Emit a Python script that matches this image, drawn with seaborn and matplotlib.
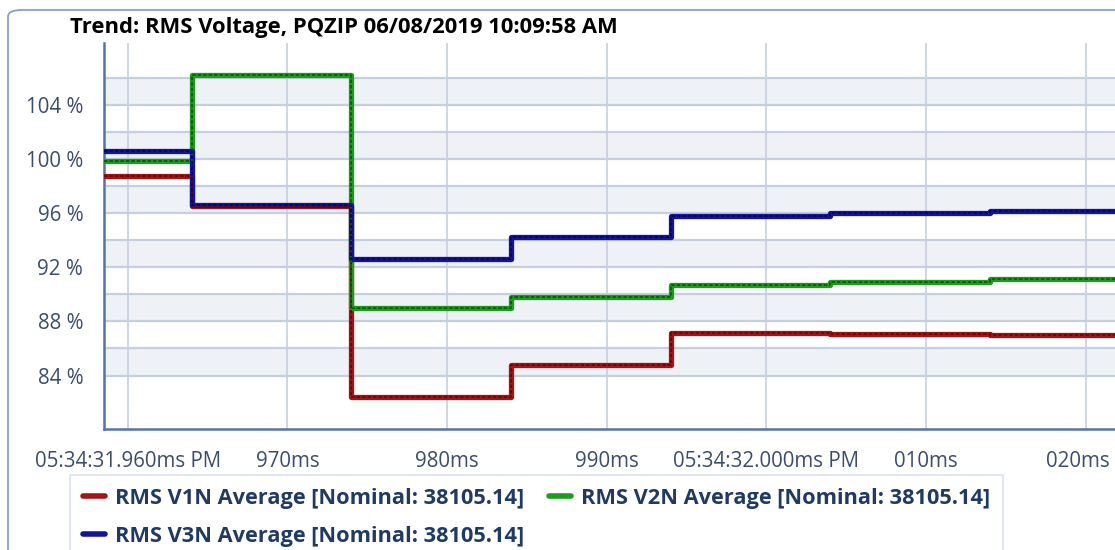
"""
Trend chart: RMS voltage of three phases (percent of nominal) over ~60 ms
"""
import numpy as np
import pandas as pd
import matplotlib
matplotlib.use("Agg")
import matplotlib.pyplot as plt
import matplotlib.transforms as mtransforms
import seaborn as sns
from matplotlib.lines import Line2D
from matplotlib.patches import FancyBboxPatch

# time in ms after 05:34:31.960 PM, one point per step
time_ms = [-1.5, 4.0, 14.0, 24.0, 34.0, 44.0, 54.0, 62.0]
v1n_pct = [98.75, 96.5, 82.4, 84.8, 87.17, 87.05, 87.0, 87.0]
v2n_pct = [99.85, 106.2, 88.95, 89.8, 90.7, 90.93, 91.13, 91.13]
v3n_pct = [100.6, 96.6, 92.6, 94.2, 95.8, 96.0, 96.15, 96.15]

series_names = ["RMS V1N Average [Nominal: 38105.14]",
                "RMS V2N Average [Nominal: 38105.14]",
                "RMS V3N Average [Nominal: 38105.14]"]

x_ticks = [0, 10, 20, 30, 40, 50, 60]
x_labels = ["05:34:31.960ms PM", "970ms", "980ms", "990ms",
            "05:34:32.000ms PM", "010ms", "020ms"]
y_ticks = list(range(84, 107, 2))
y_labels = [f"{v} %" if v % 4 == 0 else "" for v in y_ticks]

title = "Trend: RMS Voltage, PQZIP 06/08/2019 10:09:58 AM"

colors = ["#a31515", "#1e9a1e", "#14149a"]
dark_colors = ["#6a0808", "#0a600a", "#08085f"]
axis_col = "#5575a8"
grid_col = "#c6cfdf"
band_col = "#eef1f6"
text_col = "#3b4d6e"

df = pd.DataFrame({
    "t": time_ms * 3,
    "v": v1n_pct + v2n_pct + v3n_pct,
    "series": [s for s in series_names for _ in time_ms],
})

sns.set_style("white")
plt.rcParams["font.family"] = ["Open Sans", "DejaVu Sans"]

W, H = 1115, 550
fig = plt.figure(figsize=(W / 100, H / 100), dpi=100)
ax = fig.add_axes([104 / W, (H - 429) / H, (W - 104) / W, (429 - 43) / H])

# outer rounded frame
frame = FancyBboxPatch((8 / W, -0.1), 1.2, 1.1 - 10 / H,
                       boxstyle="round,pad=0,rounding_size=0.012",
                       transform=fig.transFigure, fill=False,
                       edgecolor="#7f99c6", linewidth=1.2, zorder=0)
fig.add_artist(frame)

# alternating bands and grid
for lo in range(84, 106, 4):
    ax.axhspan(lo, lo + 2, color=band_col, lw=0, zorder=0)
for v in y_ticks:
    ax.axhline(v, color=grid_col, lw=1.6, zorder=1)
for x in x_ticks:
    ax.axvline(x, color=grid_col, lw=1.2, zorder=1)

sns.lineplot(data=df, x="t", y="v", hue="series", palette=colors,
             drawstyle="steps-post", lw=3.8, legend=False, ax=ax, zorder=3)
sns.lineplot(data=df, x="t", y="v", hue="series", palette=dark_colors,
             drawstyle="steps-post", lw=1.4, linestyle=(0, (1.8, 1.0)),
             legend=False, ax=ax, zorder=4)

ax.set_xlim(-1.48, 61.83)
ax.set_ylim(80.05, 108.55)
ax.set_xticks(x_ticks)
ax.set_xticklabels(x_labels)
ax.set_yticks(y_ticks)
ax.set_yticklabels(y_labels)
ax.set_xlabel("")
ax.set_ylabel("")
ax.tick_params(axis="both", colors=axis_col, labelcolor=text_col,
               labelsize=14.8, length=10, width=1.5, direction="out")
ax.tick_params(axis="x", pad=6)
ax.tick_params(axis="y", pad=5)

# last label is pushed left so it stays inside the picture
last = ax.get_xticklabels()[-1]
last.set_transform(last.get_transform() +
                   mtransforms.ScaledTranslation(-8 / 100, 0, fig.dpi_scale_trans))

for side in ["top", "right"]:
    ax.spines[side].set_visible(False)
for side in ["left", "bottom"]:
    ax.spines[side].set_color(axis_col)
    ax.spines[side].set_linewidth(1.8)

fig.text(70 / W, 1 - 28 / H, title, fontsize=15.8, fontweight="bold",
         color="black", va="center", ha="left")

handles = [Line2D([], [], color=c, lw=4) for c in colors]
order = [0, 2, 1]
leg = fig.legend([handles[i] for i in order], [series_names[i] for i in order],
                 ncol=2, loc="upper left", bbox_to_anchor=(70 / W, 1 - 475 / H),
                 frameon=True, fancybox=False, edgecolor="#d3dbe6",
                 handlelength=1.0, handletextpad=0.45, columnspacing=1.15,
                 labelspacing=0.78, borderpad=0.6, borderaxespad=0,
                 prop={"size": 15.7, "weight": "bold"})
for t in leg.get_texts():
    t.set_color("#1f3a63")
leg.get_frame().set_linewidth(1.2)

fig.savefig("out.png", dpi=100)
